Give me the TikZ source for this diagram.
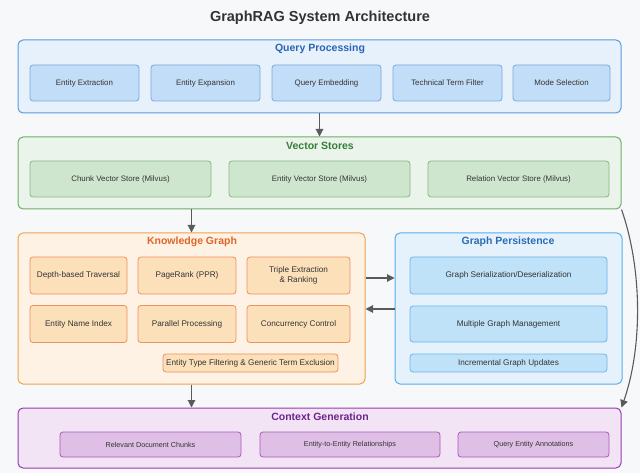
\documentclass[tikz,border=0pt]{standalone}
\usepackage{fontspec}
\setmainfont{Liberation Sans}
\setsansfont{Liberation Sans}
\usetikzlibrary{arrows.meta}
\definecolor{bg}{HTML}{F7F8FA}
\definecolor{qpfill}{HTML}{E6F1FC}
\definecolor{qpline}{HTML}{5A9BE0}
\definecolor{qptext}{HTML}{2D63B5}
\definecolor{qpin}{HTML}{C2DDF7}
\definecolor{qpinline}{HTML}{78A9DE}
\definecolor{vsfill}{HTML}{EAF4EA}
\definecolor{vsline}{HTML}{6FAE68}
\definecolor{vstext}{HTML}{347E36}
\definecolor{vsin}{HTML}{CFE6CE}
\definecolor{vsinline}{HTML}{84B981}
\definecolor{kgfill}{HTML}{FDF2E3}
\definecolor{kgline}{HTML}{F2A24E}
\definecolor{kgtext}{HTML}{E0652A}
\definecolor{kgin}{HTML}{FCE0BA}
\definecolor{kginline}{HTML}{EE9066}
\definecolor{gpfill}{HTML}{E5F2FC}
\definecolor{gpline}{HTML}{55AEEC}
\definecolor{gptext}{HTML}{2A6BB3}
\definecolor{gpin}{HTML}{C0E2F8}
\definecolor{gpinline}{HTML}{6DB5E8}
\definecolor{cgfill}{HTML}{F2E4F4}
\definecolor{cgline}{HTML}{9A3AB3}
\definecolor{cgtext}{HTML}{6E2290}
\definecolor{cgin}{HTML}{DFBFE5}
\definecolor{cginline}{HTML}{A959BD}
\definecolor{arrowc}{HTML}{5A5A5A}
\tikzset{
  outer/.style={draw, line width=1pt, rounded corners=5pt, inner sep=0pt},
  inner/.style={draw, line width=0.8pt, rounded corners=3pt, inner sep=0pt, align=center, text=black!80},
  ttl/.style={font=\bfseries\fontsize{10.5}{12}\selectfont, inner sep=0pt},
  arr/.style={draw=arrowc, line width=1.1pt, -{Triangle[length=7.5pt,width=7.5pt]}},
}
\begin{document}
\begin{tikzpicture}[x=1pt,y=-1pt]
\fill[bg] (0,0) rectangle (640,473);
\useasboundingbox (0,0) rectangle (640,473);
\node[font=\bfseries\fontsize{14.5}{16}\selectfont, text=black!80] (title) at (320,18) {GraphRAG System Architecture};

% Query Processing
\node[outer, draw=qpline, fill=qpfill, minimum width=603pt, minimum height=73pt] (qp) at (319.5,76.5) {};
\node[ttl, text=qptext] (qpt) at (320,49) {Query Processing};
\begin{scope}[every node/.style={inner, draw=qpinline, fill=qpin, minimum height=36pt, font=\fontsize{7.9}{9}\selectfont}]
\node[minimum width=109pt] (q1) at (84.5,83) {Entity Extraction};
\node[minimum width=109pt] (q2) at (205.5,83) {Entity Expansion};
\node[minimum width=109pt] (q3) at (326.5,83) {Query Embedding};
\node[minimum width=109pt] (q4) at (447.5,83) {Technical Term Filter};
\node[minimum width=97pt] (q5) at (561.5,83) {Mode Selection};
\end{scope}

% Vector Stores
\node[outer, draw=vsline, fill=vsfill, minimum width=603pt, minimum height=72pt] (vs) at (319.5,173) {};
\node[ttl, text=vstext] (vst) at (320,146) {Vector Stores};
\begin{scope}[every node/.style={inner, draw=vsinline, fill=vsin, minimum height=36pt, minimum width=181pt, font=\fontsize{7.9}{9}\selectfont}]
\node (v1) at (120.5,179) {Chunk Vector Store (Milvus)};
\node (v2) at (319.5,179) {Entity Vector Store (Milvus)};
\node (v3) at (518.5,179) {Relation Vector Store (Milvus)};
\end{scope}

% Knowledge Graph
\node[outer, draw=kgline, fill=kgfill, minimum width=347pt, minimum height=151pt] (kg) at (191.5,308.5) {};
\node[ttl, text=kgtext] (kgt) at (192,242) {Knowledge Graph};
\begin{scope}[every node/.style={inner, draw=kginline, fill=kgin, minimum height=37pt, font=\fontsize{8.2}{10}\selectfont}]
\node[minimum width=97pt] (k1) at (78.5,275.5) {Depth-based Traversal};
\node[minimum width=98pt] (k2) at (187,275.5) {PageRank (PPR)};
\node[minimum width=103pt] (k3) at (298.5,275.5) {Triple Extraction\\\& Ranking};
\node[minimum width=97pt] (k4) at (78.5,324) {Entity Name Index};
\node[minimum width=98pt] (k5) at (187,324) {Parallel Processing};
\node[minimum width=103pt] (k6) at (298.5,324) {Concurrency Control};
\node[minimum width=175pt, minimum height=18pt] (k7) at (250.5,363) {Entity Type Filtering \& Generic Term Exclusion};
\end{scope}

% Graph Persistence
\node[outer, draw=gpline, fill=gpfill, minimum width=227pt, minimum height=151pt] (gp) at (508.5,308.5) {};
\node[ttl, text=gptext] (gpt) at (508,242) {Graph Persistence};
\begin{scope}[every node/.style={inner, draw=gpinline, fill=gpin, minimum width=197pt, font=\fontsize{8.2}{10}\selectfont}]
\node[minimum height=37pt] (g1) at (508.5,275.5) {Graph Serialization/Deserialization};
\node[minimum height=36pt] (g2) at (508.5,324) {Multiple Graph Management};
\node[minimum height=18pt] (g3) at (508.5,363) {Incremental Graph Updates};
\end{scope}

% Context Generation
\node[outer, draw=cgline, fill=cgfill, minimum width=603pt, minimum height=60pt] (cg) at (319.5,438) {};
\node[ttl, text=cgtext] (cgt) at (320,417) {Context Generation};
\begin{scope}[every node/.style={inner, draw=cginline, fill=cgin, minimum height=25pt, font=\fontsize{7.2}{8}\selectfont}]
\node[minimum width=181pt] (c1) at (150.5,444.5) {Relevant Document Chunks};
\node[minimum width=180pt] (c2) at (350,444.5) {Entity-to-Entity Relationships};
\node[minimum width=151pt] (c3) at (533.5,444.5) {Query Entity Annotations};
\end{scope}

% connectors
\draw[arr] (qp.south) -- (vs.north);
\draw[arr] (vs.south -| kg.north) -- (kg.north);
\draw[arr] (kg.south) -- (kg.south |- cg.north);
\draw[arr] (kg.east |- 0,278) -- (gp.west |- 0,278);
\draw[arr] (gp.west |- 0,309) -- (kg.east |- 0,309);
\draw[arr] (vs.south east) .. controls +(21,60) and +(21,-60) .. (cg.north east);
\end{tikzpicture}
\end{document}
